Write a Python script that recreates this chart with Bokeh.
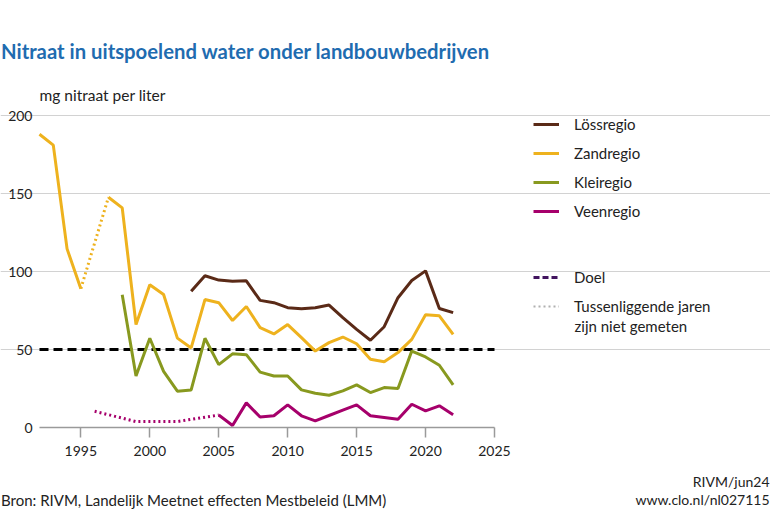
from bokeh.plotting import figure
from bokeh.models import Range1d, Legend, LegendItem, Label, FixedTicker
from bokeh.embed import file_html
from bokeh.resources import INLINE

# ---------------- data ----------------
zand_years_a = [1992, 1993, 1994, 1995]
zand_vals_a = [188, 181, 114.5, 89]
zand_years_gap = [1995, 1997]
zand_vals_gap = [89, 147.6]
zand_years_b = list(range(1997, 2023))
zand_vals_b = [147.6, 140.8, 66, 91.5, 85.3, 57.3, 51, 82, 80, 68.6, 77.6, 64, 60,
               66, 57.6, 49, 54.4, 58, 53.7, 43.7, 42.2, 48, 56.5, 72.3, 71.6, 59.7]

loss_years = list(range(2003, 2023))
loss_vals = [87.3, 97.3, 94.5, 93.7, 94, 81.5, 80, 76.8, 76.1, 76.8, 78.5, 70.4,
             62.9, 55.9, 64.6, 83.2, 94.2, 100.4, 76.3, 73.6]

klei_years = list(range(1998, 2023))
klei_vals = [85.1, 33, 57.2, 36, 23.3, 24.1, 57.2, 40.3, 47.2, 46.7, 35.5, 33, 33,
             24.1, 22, 20.7, 23.5, 27.3, 22.4, 25.6, 25, 49, 45.2, 39.9, 27.3]

veen_years_gap = [1996, 1999, 2002, 2005]
veen_vals_gap = [10.4, 3.8, 3.8, 8]
veen_years = list(range(2005, 2023))
veen_vals = [8, 1.3, 15.8, 6.7, 7.5, 14.5, 7.5, 4.3, 7.7, 11.1, 14.5, 7.5, 6.4,
             5.3, 14.9, 10.7, 13.9, 8.1]

doel_years = [1992, 2025]
doel_vals = [50, 50]

x_ticks = [1995, 2000, 2005, 2010, 2015, 2020, 2025]
y_ticks = [0, 50, 100, 150, 200]

series_names = ["Lössregio", "Zandregio", "Kleiregio", "Veenregio"]
doel_name = "Doel"
gap_name_1 = "Tussenliggende jaren"
gap_name_2 = "zijn niet gemeten"

title_text = "Nitraat in uitspoelend water onder landbouwbedrijven"
ylabel_text = "mg nitraat per liter"
source_text = "Bron: RIVM, Landelijk Meetnet effecten Mestbeleid (LMM)"
credit_1 = "RIVM/jun24"
credit_2 = "www.clo.nl/nl027115"

# ---------------- style / layout ----------------
C_LOSS = "#5a2a17"
C_ZAND = "#eeb21e"
C_KLEI = "#88991f"
C_VEEN = "#a6006b"
C_DOEL_LEG = "#42145f"
C_GAP_LEG = "#b0b0b0"
FONT = "Lato"
TXT = "#222222"
LW = 3
NAN = float("nan")

W, H = 770, 513
PX_L, PX_R = 39, 494      # pixel columns of 1992 and 2025
PY_T, PY_B = 115, 427     # pixel rows of 200 and 0
XA, XB, YA, YB = 1992, 2025, 0, 200
sx = (PX_R - PX_L) / (XB - XA)
sy = (PY_B - PY_T) / (YB - YA)
x0 = XA - PX_L / sx
x1 = XB + (W - PX_R) / sx
y1 = YB + PY_T / sy
y0 = YA - (H - PY_B) / sy

def dx(px):
    return x0 + px / sx

def dy(py):
    return YA + (PY_B - py) / sy

p = figure(width=W, height=H, output_backend="svg", toolbar_location=None,
           x_range=Range1d(x0, x1), y_range=Range1d(y0, y1),
           min_border_left=0, min_border_right=0, min_border_top=0,
           min_border_bottom=0)
p.outline_line_color = None
p.background_fill_color = "white"
p.border_fill_color = "white"

p.xgrid.grid_line_color = None
p.ygrid.ticker = FixedTicker(ticks=y_ticks[1:])
p.ygrid.bounds = (XA, XB)
p.ygrid.grid_line_color = "#d2d2d2"
p.ygrid.grid_line_width = 1

p.xaxis.fixed_location = YA
p.xaxis.bounds = (XA, XB)
p.xaxis.ticker = FixedTicker(ticks=x_ticks)
p.xaxis.axis_line_color = "#9a9a9a"
p.xaxis.axis_line_width = 1.5
p.xaxis.major_tick_line_color = "#9a9a9a"
p.xaxis.major_tick_line_width = 1.5
p.xaxis.major_tick_out = 10
p.xaxis.major_tick_in = 0
p.xaxis.minor_tick_line_color = None
p.xaxis.major_label_standoff = 8
p.xaxis.major_label_text_font = FONT
p.xaxis.major_label_text_font_size = "14px"
p.xaxis.major_label_text_color = TXT

p.yaxis.fixed_location = XA
p.yaxis.bounds = (YA, YB)
p.yaxis.ticker = FixedTicker(ticks=y_ticks)
p.yaxis.axis_line_color = None
p.yaxis.major_tick_line_color = None
p.yaxis.minor_tick_line_color = None
p.yaxis.major_tick_out = 0
p.yaxis.major_tick_in = 0
p.yaxis.major_label_standoff = 7
p.yaxis.major_label_text_font = FONT
p.yaxis.major_label_text_font_size = "14px"
p.yaxis.major_label_text_color = TXT

# target line
p.line(doel_years, doel_vals, line_color="black", line_width=LW, line_dash="9 5")

# series
r_zand = p.line(zand_years_b, zand_vals_b, line_color=C_ZAND, line_width=LW)
p.line(zand_years_a, zand_vals_a, line_color=C_ZAND, line_width=LW)
p.line(zand_years_gap, zand_vals_gap, line_color=C_ZAND, line_width=LW, line_dash="2 3")
r_klei = p.line(klei_years, klei_vals, line_color=C_KLEI, line_width=LW)
r_veen = p.line(veen_years, veen_vals, line_color=C_VEEN, line_width=LW)
p.line(veen_years_gap, veen_vals_gap, line_color=C_VEEN, line_width=LW, line_dash="2 3")
r_loss = p.line(loss_years, loss_vals, line_color=C_LOSS, line_width=LW)

# legend-only renderers (no visible data)
r_doel_leg = p.line(x=[NAN, NAN], y=[NAN, NAN], line_color=C_DOEL_LEG,
                    line_width=LW, line_dash="6 3")
r_gap_leg = p.line(x=[NAN, NAN], y=[NAN, NAN], line_color=C_GAP_LEG,
                   line_width=2, line_dash="2 3")

common = dict(border_line_color=None, background_fill_alpha=0, padding=0, margin=0,
              spacing=9, glyph_width=26, glyph_height=20, label_height=20,
              label_standoff=15, label_text_font=FONT, label_text_font_size="15px",
              label_text_color=TXT)

leg1 = Legend(items=[LegendItem(label=series_names[0], renderers=[r_loss]),
                     LegendItem(label=series_names[1], renderers=[r_zand]),
                     LegendItem(label=series_names[2], renderers=[r_klei]),
                     LegendItem(label=series_names[3], renderers=[r_veen])],
              location=(533, H - 221), **common)
leg2 = Legend(items=[LegendItem(label=doel_name, renderers=[r_doel_leg]),
                     LegendItem(label=gap_name_1, renderers=[r_gap_leg])],
              location=(533, H - 316), **common)
p.add_layout(leg1)
p.add_layout(leg2)

def lab(text, px, py, size, color=TXT, style="normal", align="left"):
    p.add_layout(Label(x=dx(px), y=dy(py), text=text, text_font=FONT,
                       text_font_size=size, text_color=color,
                       text_font_style=style, text_align=align,
                       text_baseline="alphabetic"))

lab(title_text, 0.5, 50, "20.3px", color="#1f6cb0", style="bold")
lab(ylabel_text, 39, 94, "15.5px")
lab(gap_name_2, 574, 325, "15px")
lab(source_text, 0.5, 499, "15px")
lab(credit_1, 769, 481, "14px", align="right")
lab(credit_2, 769, 499, "14px", align="right")

open("out.html", "w").write(file_html(p, INLINE))
